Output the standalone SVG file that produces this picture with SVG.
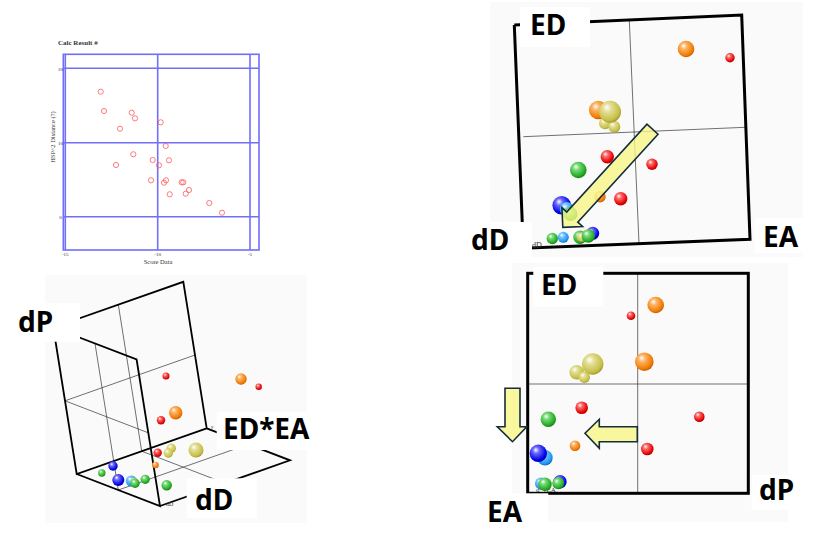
<svg xmlns="http://www.w3.org/2000/svg" width="824" height="547" viewBox="0 0 824 547">
<defs>
<radialGradient id="gR" cx="0.42" cy="0.38" r="0.62" fx="0.35" fy="0.3"><stop offset="0" stop-color="#ffffff"/><stop offset="0.3" stop-color="#ff6a6a"/><stop offset="0.85" stop-color="#e60000"/><stop offset="1" stop-color="#b40000"/></radialGradient>
<radialGradient id="gO" cx="0.42" cy="0.38" r="0.62" fx="0.35" fy="0.3"><stop offset="0" stop-color="#ffffff"/><stop offset="0.3" stop-color="#ffb466"/><stop offset="0.85" stop-color="#f07a00"/><stop offset="1" stop-color="#c45c00"/></radialGradient>
<radialGradient id="gY" cx="0.42" cy="0.38" r="0.62" fx="0.35" fy="0.3"><stop offset="0" stop-color="#ffffff"/><stop offset="0.3" stop-color="#e4e09a"/><stop offset="0.85" stop-color="#c6bf45"/><stop offset="1" stop-color="#a39c30"/></radialGradient>
<radialGradient id="gG" cx="0.42" cy="0.38" r="0.62" fx="0.35" fy="0.3"><stop offset="0" stop-color="#ffffff"/><stop offset="0.3" stop-color="#78dc78"/><stop offset="0.85" stop-color="#22a822"/><stop offset="1" stop-color="#128012"/></radialGradient>
<radialGradient id="gB" cx="0.42" cy="0.38" r="0.62" fx="0.35" fy="0.3"><stop offset="0" stop-color="#ffffff"/><stop offset="0.3" stop-color="#6a6aff"/><stop offset="0.85" stop-color="#0000e6"/><stop offset="1" stop-color="#0000a8"/></radialGradient>
<radialGradient id="gL" cx="0.42" cy="0.38" r="0.62" fx="0.35" fy="0.3"><stop offset="0" stop-color="#ffffff"/><stop offset="0.3" stop-color="#7cc8ff"/><stop offset="0.85" stop-color="#1e94f2"/><stop offset="1" stop-color="#1070c4"/></radialGradient>
</defs>
<style>
.panel{fill:#fafafa}
.lbox{fill:#ffffff}
.lab{font-family:"Noto Sans","DejaVu Sans",sans-serif;font-weight:bold;font-size:28px;fill:#000}
.tiny{font-family:"Liberation Serif",serif;fill:#333}
.bl{stroke:#6f6ff8;stroke-width:1.6;fill:none}
.pt{fill:none;stroke:#ff5a5a;stroke-width:0.8}
.thick{stroke:#000;stroke-width:3;fill:none}
.thick3d{stroke:#000;stroke-width:1.8;fill:none}
.thin{stroke:#333;stroke-width:0.7;fill:none}
.arrow{fill:#f9f686;fill-opacity:0.8;stroke:#152c3e;stroke-width:1.6;stroke-linejoin:miter}
.r{fill:url(#gR)}.o{fill:url(#gO)}.y{fill:url(#gY)}.g{fill:url(#gG)}.b{fill:url(#gB)}.l{fill:url(#gL)}
</style>
<rect width="824" height="547" fill="#ffffff"/>

<!-- top-left 2D chart -->
<g id="chart-2d">
<text class="tiny" x="58" y="45" font-size="7" font-weight="bold">Calc Result  #</text>
<rect class="bl" x="63.3" y="54.3" width="195.7" height="195.7"/>
<path class="bl" d="M65.3,54.3V250 M157.7,54.3V250 M250,54.3V250 M63.3,68.3H259 M63.3,142.7H259 M63.3,216.7H259"/>
<g class="tiny" font-size="5" text-anchor="middle">
<text x="60.5" y="70.5">20</text><text x="60.5" y="144.5">10</text><text x="60.5" y="218.5">0</text>
<text x="65.3" y="256">-15</text><text x="157.7" y="256">-10</text><text x="250" y="256">-5</text>
</g>
<text class="tiny" x="158" y="264" font-size="6.5" text-anchor="middle">Score Data</text>
<text class="tiny" x="0" y="0" font-size="6.5" text-anchor="middle" transform="translate(55,137) rotate(-90)">HSP^2 Distance (?)</text>
<g id="points">
<circle class="pt" cx="100.7" cy="91.7" r="2.6"/><circle class="pt" cx="104" cy="111" r="2.6"/>
<circle class="pt" cx="131.7" cy="112.7" r="2.6"/><circle class="pt" cx="135" cy="118.3" r="2.6"/>
<circle class="pt" cx="120" cy="128.7" r="2.6"/><circle class="pt" cx="160.7" cy="122.3" r="2.6"/>
<circle class="pt" cx="165.7" cy="146" r="2.6"/><circle class="pt" cx="133.3" cy="154.3" r="2.6"/>
<circle class="pt" cx="116" cy="165" r="2.6"/><circle class="pt" cx="152.7" cy="160" r="2.6"/>
<circle class="pt" cx="169" cy="160.3" r="2.6"/><circle class="pt" cx="159" cy="165.3" r="2.6"/>
<circle class="pt" cx="151" cy="180.3" r="2.6"/><circle class="pt" cx="166" cy="180.3" r="2.6"/>
<circle class="pt" cx="164" cy="182.7" r="2.6"/><circle class="pt" cx="181.7" cy="182.3" r="2.6"/>
<circle class="pt" cx="183.3" cy="182.3" r="2.6"/><circle class="pt" cx="169.7" cy="194.3" r="2.6"/>
<circle class="pt" cx="185.7" cy="193.7" r="2.6"/><circle class="pt" cx="189" cy="190" r="2.6"/>
<circle class="pt" cx="209.3" cy="203" r="2.6"/><circle class="pt" cx="222" cy="212.7" r="2.6"/>
</g>
</g>

<!-- top-right ED vs EA -->
<g id="panel-ed-ea">
<rect class="panel" x="490" y="2" width="313" height="255"/>
<path class="thin" d="M629.3,20.3L639,243.5 M523.3,136.7L745,127.3"/>
<path class="thick" d="M514.3,25L523.3,248.3L750,239.3L741.7,15L514.3,25"/>
<text class="tiny" x="532" y="248" font-size="8">dD</text>
<circle class="o" cx="686" cy="49" r="8.3"/>
<circle class="r" cx="730" cy="57.7" r="4.7"/>
<circle class="o" cx="598.3" cy="110" r="9.3"/>
<circle class="y" cx="605" cy="123.3" r="6"/>
<circle class="y" cx="614.3" cy="126.7" r="6"/>
<circle class="y" cx="610" cy="111.7" r="11"/>
<circle class="r" cx="607.3" cy="156.7" r="6.7"/>
<circle class="r" cx="652" cy="164.3" r="5.7"/>
<circle class="g" cx="578.3" cy="170" r="8.3"/>
<circle class="o" cx="600" cy="196.7" r="5.7"/>
<circle class="r" cx="620.7" cy="198.7" r="6.7"/>
<circle class="b" cx="561.7" cy="205.3" r="9.3"/>
<circle class="l" cx="566.7" cy="209" r="7"/>
<circle class="g" cx="570.5" cy="214" r="7"/>
<circle class="g" cx="552.3" cy="238.5" r="5.7"/>
<circle class="l" cx="563.3" cy="237.3" r="5.5"/>
<circle class="b" cx="592.7" cy="233.3" r="6.5"/>
<circle class="g" cx="580" cy="237.3" r="6.7"/>
<circle class="y" cx="581.7" cy="237.3" r="4.7"/>
<circle class="g" cx="588.3" cy="236" r="6.7"/>
<polygon class="arrow" points="0,-7.5 119,-7.5 119,-14 133,0 119,14 119,7.5 0,7.5" transform="translate(652.5,129.2) rotate(132.4)"/>
<rect class="lbox" x="520" y="7" width="70" height="40"/>
<rect class="lbox" x="470" y="222" width="62" height="38"/>
<rect class="lbox" x="755" y="218" width="48" height="35"/>
<text class="lab" x="530" y="35">ED</text>
<text class="lab" x="471" y="250">dD</text>
<text class="lab" x="763" y="247">EA</text>
</g>

<!-- bottom-left 3D -->
<g id="panel-3d">
<rect class="panel" x="45" y="275" width="262" height="248"/>
<path class="thin" d="M118.3,304.6L141.7,451.2 M65,400.8L195,355 M95,343.5L118.3,490 M65,400.8L148.3,432.8 M141.7,451.2L225,483.2 M118.3,490L248.3,444.3"/>
<path class="thick3d" d="M53.3,327.5L183.3,281.8L206.7,428.3L76.7,474Z M53.3,327.5L136.6,359.5L160,506L76.7,474 M206.7,428.3L290,460.3L160,506"/>
<text class="tiny" x="211" y="428" font-size="5">y</text>
<text class="tiny" x="166" y="506" font-size="6">dD</text>
<circle class="r" cx="166" cy="376" r="3.5"/>
<circle class="o" cx="241" cy="379" r="5.7"/>
<circle class="r" cx="258.7" cy="386.7" r="3.2"/>
<circle class="o" cx="175.7" cy="412.7" r="6.7"/>
<circle class="r" cx="161" cy="420.3" r="4.2"/>
<circle class="y" cx="171.3" cy="448.3" r="4.7"/>
<circle class="y" cx="168.3" cy="453" r="4.7"/>
<circle class="y" cx="196" cy="450" r="7.5"/>
<circle class="r" cx="157.7" cy="452.7" r="4.2"/>
<circle class="o" cx="155.5" cy="465" r="3.3"/>
<circle class="b" cx="113" cy="466" r="4.7"/>
<circle class="g" cx="101.8" cy="473" r="3.7"/>
<circle class="b" cx="118.3" cy="480" r="6"/>
<circle class="l" cx="131.3" cy="481" r="5.5"/>
<circle class="y" cx="134" cy="481" r="3.3"/>
<circle class="g" cx="135" cy="483.3" r="4.7"/>
<circle class="g" cx="145.2" cy="479.3" r="4.6"/>
<circle class="g" cx="166.7" cy="485.2" r="5.2"/>
<rect class="lbox" x="16.7" y="303" width="63.3" height="38.7"/>
<rect class="lbox" x="216.7" y="412" width="96" height="38"/>
<rect class="lbox" x="186.7" y="478.3" width="70" height="40"/>
<text class="lab" x="18" y="332">dP</text>
<text class="lab" x="223" y="438.5">ED*EA</text>
<text class="lab" x="195" y="509.5">dD</text>
</g>

<!-- bottom-right ED vs dP -->
<g id="panel-ed-dp">
<rect class="panel" x="511.7" y="263" width="276.6" height="258.7"/>
<path class="thin" d="M637.7,273.3V493.3 M527.7,384H748.3"/>
<rect class="thick" x="527.7" y="273.3" width="220.6" height="220"/>
<text class="tiny" x="536" y="492" font-size="7">d*vEA</text>
<circle class="o" cx="655.7" cy="305" r="8.3"/>
<circle class="r" cx="631" cy="315.7" r="4.3"/>
<circle class="o" cx="644.3" cy="361.7" r="9.3"/>
<circle class="y" cx="576.7" cy="372.3" r="7.3"/>
<circle class="y" cx="584.3" cy="377.3" r="5.7"/>
<circle class="y" cx="592.7" cy="364" r="10.7"/>
<circle class="r" cx="581.7" cy="407.7" r="6.3"/>
<circle class="r" cx="699.3" cy="416.7" r="5.3"/>
<circle class="g" cx="548.3" cy="419.3" r="7.7"/>
<circle class="o" cx="575" cy="445.7" r="5.3"/>
<circle class="r" cx="647.3" cy="449" r="6.3"/>
<circle class="l" cx="545" cy="457.7" r="7.7"/>
<circle class="b" cx="538.3" cy="453.3" r="8.7"/>
<circle class="l" cx="541" cy="483.5" r="6"/>
<circle class="b" cx="560" cy="481.7" r="6.7"/>
<circle class="g" cx="558.3" cy="483.3" r="6"/>
<circle class="g" cx="545" cy="484.3" r="6.7"/>
<polygon class="arrow" points="505,388.3 520,388.3 520,426.7 526.7,426.7 512.5,441.7 497.3,426.7 505,426.7"/>
<polygon class="arrow" points="637.3,426.7 637.3,441.7 599.3,441.7 599.3,448.3 585,433.3 599.3,419.3 599.3,426.7"/>
<rect class="lbox" x="533.3" y="266.7" width="70" height="40"/>
<rect class="lbox" x="485" y="493.3" width="63.3" height="30"/>
<rect class="lbox" x="751.7" y="475" width="36.6" height="35"/>
<text class="lab" x="541" y="295">ED</text>
<text class="lab" x="487" y="521.5">EA</text>
<text class="lab" x="759" y="500">dP</text>
</g>
</svg>
